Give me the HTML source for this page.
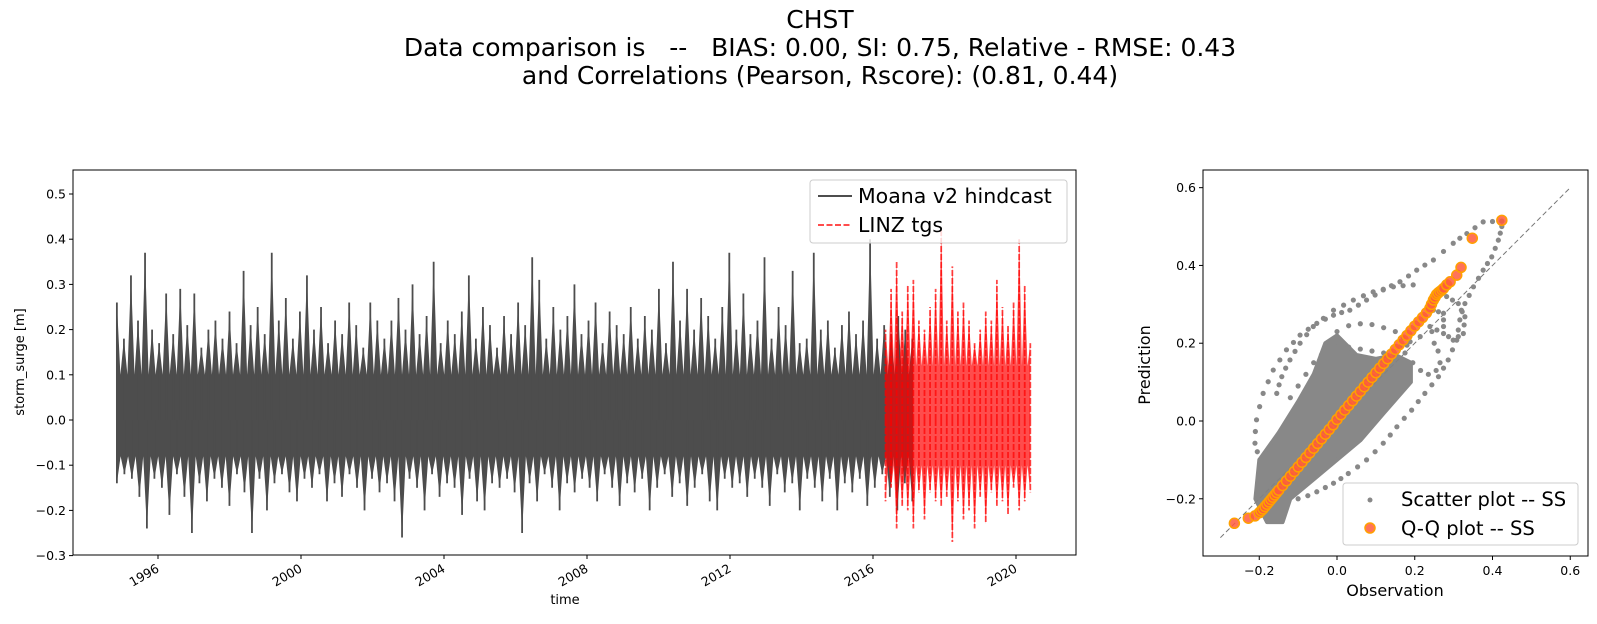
<!DOCTYPE html>
<html><head><meta charset="utf-8">
<style>
html,body{margin:0;padding:0;background:#fff;}
svg{display:block;font-family:"DejaVu Sans","Liberation Sans",sans-serif;}
</style></head>
<body>
<svg id="chart" width="1597" height="624" viewBox="0 0 1597 624" xmlns="http://www.w3.org/2000/svg">
<g id="left"></g>
<g id="right"></g>
<g font-size="25" text-anchor="middle" fill="#000">
<text x="820" y="28">CHST</text>
<text x="820" y="56" xml:space="preserve">Data comparison is   --   BIAS: 0.00, SI: 0.75, Relative - RMSE: 0.43</text>
<text x="820" y="84">and Correlations (Pearson, Rscore): (0.81, 0.44)</text>
</g>
</svg>
<script>
// ---------- time series data ----------
const blackSpan = [1994.85, 2017.1];
const blackHi = [.26,.18,.32,.22,.37,.20,.17, .28,.19,.29,.21,.28,.16,.20, .22,.18,.24,.17,.33,.21,.25, .19,.37,.22,.27,.18,.24,.32,
 .20,.25,.17,.22,.19,.26,.21, .16,.26,.22,.18,.22,.27,.20, .30,.19,.23,.35,.17,.22,.19, .24,.32,.18,.25,.21,.16,.23,
 .19,.26,.21,.36,.31,.18,.25, .20,.23,.30,.19,.22,.26,.17, .24,.21,.19,.25,.18,.23,.20, .29,.17,.35,.22,.29,.20,.27,
 .23,.18,.25,.37,.20,.28,.19, .22,.36,.18,.25,.21,.33,.17, .18,.37,.20,.22,.16,.21,.24, .19,.22,.40,.18,.21,.19,.23, .20,.18];
const blackLo = [-.14,-.12,-.13,-.17,-.24,-.13,-.15, -.21,-.12,-.17,-.25,-.14,-.18,-.13, -.15,-.19,-.12,-.16,-.25,-.13,-.20,
 -.14,-.12,-.16,-.18,-.13,-.15,-.12, -.18,-.14,-.17,-.12,-.15,-.20,-.13, -.16,-.14,-.18,-.26,-.13,-.15,-.20,
 -.12,-.17,-.14,-.15,-.21,-.13,-.18, -.20,-.14,-.15,-.13,-.16,-.25,-.14, -.18,-.12,-.15,-.20,-.14,-.16,-.13,
 -.15,-.18,-.12,-.15,-.19,-.14,-.16, -.13,-.20,-.15,-.12,-.17,-.14,-.19, -.15,-.12,-.18,-.20,-.13,-.15,-.14,
 -.17,-.13,-.15,-.19,-.12,-.16,-.14, -.20,-.13,-.15,-.18,-.13,-.20,-.14, -.16,-.13,-.19,-.15,-.12,-.17,-.20, -.14,-.18];
const blackCoreHi = 0.10, blackCoreLo = -0.08;
const redSpan = [2016.35, 2020.4];
const redHi = [.20,.29,.35,.24,.30,.31,.22,.20,.25,.29,.42,.22,.34,.24,.26,.22,.17,.20,.24,.22,.31,.25,.21,.26,.40,.30,.17];
const redLo = [-.18,-.15,-.24,-.19,-.20,-.24,-.16,-.22,-.16,-.18,-.19,-.17,-.27,-.18,-.22,-.20,-.24,-.17,-.23,-.16,-.19,-.18,-.21,-.15,-.20,-.18,-.16];
const redCoreHi = 0.12, redCoreLo = -0.10;
const yTicksLeft = [-0.3,-0.2,-0.1,0.0,0.1,0.2,0.3,0.4,0.5];
const xTickYears = [1996,2000,2004,2008,2012,2016,2020];

// ---------- scatter data ----------
const cloudObs = [-0.18,-0.21,-0.20,-0.15,-0.10,-0.06,-0.03,0.00,0.05,0.10,0.15,0.19,0.19,0.12,0.06,0.00,-0.06,-0.12,-0.14];
const cloudPred = [-0.26,-0.20,-0.10,-0.03,0.05,0.12,0.20,0.22,0.17,0.16,0.17,0.15,0.10,0.02,-0.05,-0.10,-0.15,-0.20,-0.26];
const scatObs = [0.424,0.400,0.376,0.355,0.334,0.316,0.299,0.274,0.248,0.226,0.205,0.184,0.162,0.140,0.119,0.098,0.076,0.055,0.033,0.012,-0.009,-0.030,-0.052,-0.074,-0.095,-0.112,-0.130,-0.147,-0.164,-0.177,-0.190,-0.199,-0.207,-0.210,-0.211,-0.205,-0.198,
 0.424,0.420,0.415,0.407,0.398,0.387,0.376,0.364,0.351,0.340,0.329,0.322,0.316,0.312,0.308,0.297,0.286,0.274,0.261,0.244,0.226,0.209,0.192,0.173,0.154,0.137,0.119,0.098,0.076,0.053,0.029,0.010,-0.009,-0.030,-0.052,-0.075,-0.100,
 0.282,0.297,0.312,0.320,0.329,0.327,0.325,0.312,0.299,0.287,0.274,0.257,0.239,
 0.196,0.170,0.145,0.119,0.093,0.068,0.042,0.017,-0.009,-0.035,-0.061,-0.078,-0.095,-0.108,-0.121,-0.132,-0.142,-0.149,-0.155,
 0.248,0.261,0.274,0.274,0.274,0.244,0.214,0.188,0.162,
 0.000,0.030,0.060,0.090,0.120,0.150,0.170,0.180,0.175,0.150,0.120,0.090,0.060,0.030,0.005,-0.020,-0.040,-0.060,-0.080,-0.100,-0.120,
 0.250,0.260,0.265,0.255,0.235,0.215,0.195];
const scatPred = [0.514,0.513,0.512,0.497,0.482,0.470,0.457,0.436,0.414,0.401,0.388,0.373,0.358,0.348,0.337,0.324,0.311,0.298,0.285,0.279,0.272,0.262,0.251,0.236,0.221,0.202,0.183,0.157,0.131,0.101,0.071,0.037,0.003,-0.027,-0.057,-0.079,-0.100,
 0.500,0.483,0.465,0.444,0.422,0.405,0.388,0.367,0.345,0.323,0.302,0.281,0.260,0.234,0.208,0.183,0.157,0.136,0.114,0.093,0.071,0.050,0.028,0.007,-0.015,-0.036,-0.057,-0.079,-0.100,-0.118,-0.135,-0.148,-0.160,-0.171,-0.182,-0.192,-0.200,
 0.320,0.311,0.302,0.285,0.268,0.247,0.225,0.217,0.208,0.217,0.225,0.234,0.243,
 0.350,0.348,0.345,0.339,0.332,0.322,0.311,0.298,0.285,0.264,0.243,0.222,0.200,0.179,0.157,0.136,0.114,0.093,0.071,
 0.285,0.281,0.277,0.260,0.243,0.230,0.217,0.204,0.191,
 0.230,0.245,0.250,0.248,0.240,0.230,0.215,0.195,0.175,0.170,0.175,0.180,0.185,0.190,0.195,0.190,0.170,0.150,0.120,0.090,0.060,
 0.200,0.180,0.150,0.130,0.120,0.130,0.150];
const qqObs = [-0.264,-0.228,-0.211,-0.20,-0.195,-0.19,-0.185,-0.18,-0.175,-0.17,-0.165,-0.16,-0.155,-0.15,-0.14,-0.13,-0.12,-0.11,-0.10,-0.09,-0.08,-0.07,-0.06,-0.05,-0.04,-0.03,-0.02,-0.01,0.00,0.01,0.02,0.03,0.04,0.05,0.06,0.07,0.08,0.09,0.10,0.11,0.12,0.13,0.14,0.15,0.16,0.17,0.18,0.19,0.20,0.21,0.22,0.23,0.239,0.243,0.248,0.252,0.256,0.260,0.265,0.270,0.274,0.282,0.291,0.308,0.319,0.348,0.424];
const qqPred = [-0.263,-0.250,-0.244,-0.236,-0.231,-0.226,-0.220,-0.214,-0.208,-0.202,-0.196,-0.190,-0.184,-0.178,-0.166,-0.154,-0.142,-0.130,-0.118,-0.106,-0.094,-0.082,-0.070,-0.058,-0.046,-0.034,-0.022,-0.010,0.004,0.016,0.028,0.040,0.052,0.064,0.076,0.088,0.100,0.112,0.124,0.136,0.148,0.160,0.172,0.184,0.196,0.208,0.220,0.232,0.244,0.255,0.266,0.278,0.290,0.300,0.311,0.318,0.325,0.329,0.333,0.337,0.341,0.350,0.358,0.375,0.395,0.470,0.516];
const ticksRight = [-0.2,0.0,0.2,0.4,0.6];
const tickLabelsRight = ["\u22120.2","0.0","0.2","0.4","0.6"];

const NS = "http://www.w3.org/2000/svg";
function mk(parent, tag, attrs, text){
  const e = document.createElementNS(NS, tag);
  for (const k in attrs) e.setAttribute(k, attrs[k]);
  if (text !== undefined) e.textContent = text;
  parent.appendChild(e);
  return e;
}
function fmt(v){ const s = Math.abs(v).toFixed(1); return (v < 0 ? "\u2212" : "") + s; }

// ---------- left panel ----------
const L = document.getElementById('left');
const LX0 = 73, LX1 = 1076, LY0 = 170, LY1 = 555;
const xT = yr => 873 + (yr - 2016) * 35.75;
const yL = v => 420 - v * 452;

function series(span, hi, lo, coreHi, coreLo, fill, dash, name){
  const nh = hi.length, dh = (span[1] - span[0]) / (nh - 1);
  const nl = lo.length, dl = (span[1] - span[0]) / (nl - 1);
  const pts = [];
  for (let i = 0; i < nh; i++){
    const t = span[0] + i * dh;
    pts.push([xT(t), yL(hi[i])]);
    if (i < nh - 1) pts.push([xT(t + dh / 2), yL(coreHi)]);
  }
  for (let i = nl - 1; i >= 0; i--){
    const t = span[0] + i * dl;
    pts.push([xT(t), yL(lo[i])]);
    if (i > 0) pts.push([xT(t - dl / 2), yL(coreLo)]);
  }
  const g = mk(L, 'g', {});
  
  
  const p = mk(g, 'polygon', {points: pts.map(q => q[0].toFixed(1) + ',' + q[1].toFixed(1)).join(' '), fill: fill});
  
  
  const addLine = (t, v) => {
    const a = {x1: xT(t), x2: xT(t), y1: yL(0), y2: yL(v), stroke: fill, 'stroke-width': 1.8};
    if (dash) a['stroke-dasharray'] = dash;
    const ln = mk(g, 'line', a);
    
    
  };
  hi.forEach((v, i) => addLine(span[0] + i * dh, v));
  lo.forEach((v, i) => addLine(span[0] + i * dl, v));
}
series(blackSpan, blackHi, blackLo, blackCoreHi, blackCoreLo, '#4d4d4d', null, 'hindcast-series');
series(redSpan, redHi, redLo, redCoreHi, redCoreLo, 'rgba(255,0,0,0.7)', '6,2', 'tgs-series');

const frameL = mk(L, 'rect', {x: LX0, y: LY0, width: LX1 - LX0, height: LY1 - LY0, fill: 'none', stroke: '#000', 'stroke-width': 1});



yTicksLeft.forEach(v => {
  const y = yL(v);
  const t = mk(L, 'line', {x1: LX0 - 4, x2: LX0, y1: y, y2: y, stroke: '#000'});
  
  
  const tx = mk(L, 'text', {x: LX0 - 7, y: y + 4.5, 'font-size': 12.5, 'text-anchor': 'end'}, fmt(v));
  
  
});
xTickYears.forEach(yr => {
  const x = xT(yr);
  const t = mk(L, 'line', {x1: x, x2: x, y1: LY1, y2: LY1 + 4, stroke: '#000'});
  
  
  const tx = mk(L, 'text', {x: x + 2, y: LY1 + 16, 'font-size': 12.5, 'text-anchor': 'end', transform: `rotate(-30 ${x+2} ${LY1+16})`}, String(yr));
  
  
});
const yTitle = mk(L, 'text', {x: 24, y: 362, 'font-size': 13, 'text-anchor': 'middle', transform: 'rotate(-90 24 362)'}, 'storm_surge [m]');


const xTitle = mk(L, 'text', {x: 565, y: 604, 'font-size': 13, 'text-anchor': 'middle'}, 'time');



const legL = mk(L, 'g', {});


mk(legL, 'rect', {x: 810, y: 180, width: 257, height: 63, rx: 3, fill: 'rgba(255,255,255,0.8)', stroke: '#ccc'});
mk(legL, 'line', {x1: 818, x2: 852, y1: 196, y2: 196, stroke: '#4d4d4d', 'stroke-width': 2});
const le1 = mk(legL, 'text', {x: 858, y: 203, 'font-size': 20.5}, 'Moana v2 hindcast');


mk(legL, 'line', {x1: 818, x2: 852, y1: 225, y2: 225, stroke: 'rgba(255,0,0,0.7)', 'stroke-width': 2, 'stroke-dasharray': '6,2.5'});
const le2 = mk(legL, 'text', {x: 858, y: 232, 'font-size': 20.5}, 'LINZ tgs');



// ---------- right panel ----------
const R = document.getElementById('right');
const RX0 = 1203, RX1 = 1588, RY0 = 170, RY1 = 556;
const xR = v => 1337 + v * 388.75;
const yR = v => 421 - v * 388.9;

const diag = mk(R, 'line', {x1: xR(-0.3), y1: yR(-0.3), x2: xR(0.6), y2: yR(0.6), stroke: '#777', 'stroke-width': 1, 'stroke-dasharray': '5,3'});



const cloud = mk(R, 'polygon', {points: cloudObs.map((o,i) => xR(o).toFixed(1) + ',' + yR(cloudPred[i]).toFixed(1)).join(' '), fill: '#828282', stroke: '#828282', 'stroke-width': 4, 'stroke-linejoin': 'round', opacity: 0.95});


const sg = mk(R, 'g', {fill: '#888'});


scatObs.forEach((o,i) => {
  const c = mk(sg, 'circle', {cx: xR(o), cy: yR(scatPred[i]), r: 2.6});
  
  
});
const qg = mk(R, 'g', {});


qqObs.forEach((o,i) => {
  const c = mk(qg, 'circle', {cx: xR(o), cy: yR(qqPred[i]), r: 5, fill: 'rgba(255,90,60,0.85)', stroke: '#ffa000', 'stroke-width': 1.5});
  
  
});

const frameR = mk(R, 'rect', {x: RX0, y: RY0, width: RX1 - RX0, height: RY1 - RY0, fill: 'none', stroke: '#000'});


ticksRight.forEach((v,i) => {
  const x = xR(v);
  const t = mk(R, 'line', {x1: x, x2: x, y1: RY1, y2: RY1 + 4, stroke: '#000'});
  
  
  const tx = mk(R, 'text', {x: x, y: RY1 + 19, 'font-size': 12.5, 'text-anchor': 'middle'}, tickLabelsRight[i]);
  
  
  const y = yR(v);
  const t2 = mk(R, 'line', {x1: RX0 - 4, x2: RX0, y1: y, y2: y, stroke: '#000'});
  
  
  const ty = mk(R, 'text', {x: RX0 - 7, y: y + 4.5, 'font-size': 12.5, 'text-anchor': 'end'}, tickLabelsRight[i]);
  
  
});
const rY = mk(R, 'text', {x: 1150, y: 365, 'font-size': 16, 'text-anchor': 'middle', transform: 'rotate(-90 1150 365)'}, 'Prediction');


const rX = mk(R, 'text', {x: 1395, y: 596, 'font-size': 16, 'text-anchor': 'middle'}, 'Observation');



const legR = mk(R, 'g', {});


mk(legR, 'rect', {x: 1343, y: 483, width: 235, height: 62, rx: 3, fill: 'rgba(255,255,255,0.8)', stroke: '#ccc'});
mk(legR, 'circle', {cx: 1370, cy: 500, r: 2.5, fill: '#888'});
const lr1 = mk(legR, 'text', {x: 1401, y: 506, 'font-size': 19.5}, 'Scatter plot -- SS');


mk(legR, 'circle', {cx: 1370, cy: 528, r: 5, fill: 'rgba(255,90,60,0.85)', stroke: '#ffa000', 'stroke-width': 1.5});
const lr2 = mk(legR, 'text', {x: 1401, y: 535, 'font-size': 19.5}, 'Q-Q plot -- SS');


</script>
</body></html>
